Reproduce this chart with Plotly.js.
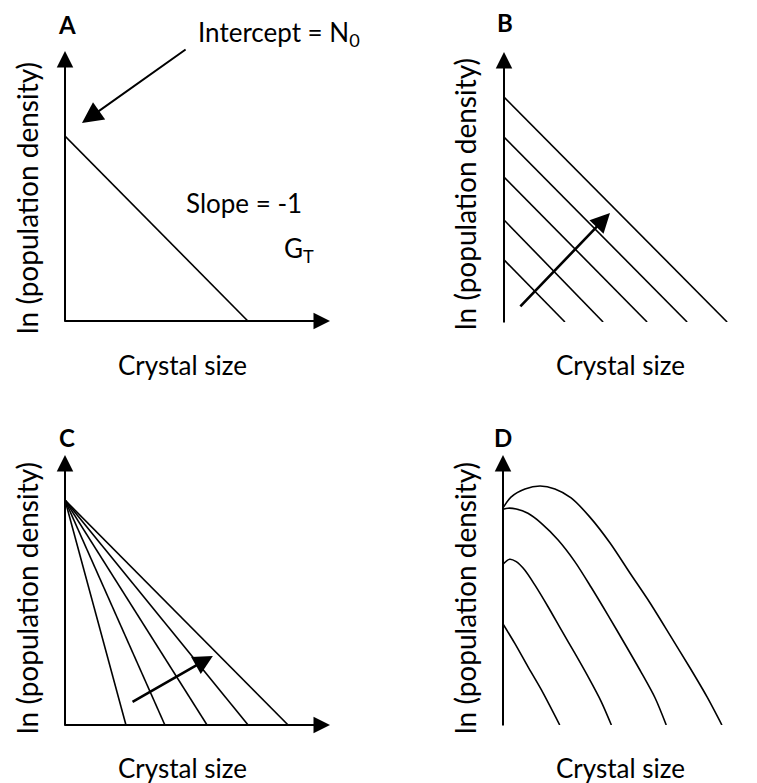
<!DOCTYPE html>
<html><head><meta charset="utf-8">
<script src="https://cdn.plot.ly/plotly-3.0.1.min.js"></script>
<style>html,body{margin:0;padding:0;background:#fff}</style>
</head><body><div id="chart" style="width:757px;height:783px"></div>
<script>
// ---- data ----
const panelLetters = ['A', 'B', 'C', 'D'];
const xAxisTitle = 'Crystal size';
const yAxisTitle = 'ln (population density)';

// Panel A: single population density line
const aLineX = [0, 6.9];
const aLineY = [6.85, 0];
const aInterceptLabel = 'Intercept = N<sub>0</sub>';
const aSlopeLabel = 'Slope = -1';
const aSlopeSubLabel = 'G<sub>T</sub>';

// Panel B: parallel lines (y-intercepts, x-intercepts)
const bInterceptsY = [2.30, 3.78, 5.37, 6.85, 8.33];
const bInterceptsX = [2.30, 3.74, 5.40, 6.91, 8.42];

// Panel C: lines through a common intercept
const cApexY = 8.33;
const cInterceptsX = [2.30, 3.77, 5.36, 6.91, 8.42];

// Panel D: curved distributions
const dCurve1X = [0, 0.30, 0.83, 1.40, 1.96, 2.57, 3.28, 4.04, 4.79, 5.55, 6.30, 7.06, 7.70, 8.26];
const dCurve1Y = [8.04, 8.44, 8.74, 8.85, 8.74, 8.41, 7.70, 6.74, 5.63, 4.52, 3.33, 2.11, 1.04, 0];
const dCurve2X = [0, 0.19, 0.50, 0.94, 1.45, 2.08, 2.71, 3.32, 3.96, 4.60, 5.21, 5.74, 6.16];
const dCurve2Y = [7.99, 8.03, 8.00, 7.84, 7.47, 6.85, 6.05, 5.11, 4.07, 3.00, 1.96, 1.00, 0];
const dCurve3X = [0, 0.25, 0.50, 0.82, 1.20, 1.70, 2.20, 2.71, 3.21, 3.71, 4.09];
const dCurve3Y = [5.96, 6.14, 6.05, 5.74, 5.19, 4.38, 3.52, 2.66, 1.79, 0.86, 0];
const dCurve4X = [0, 0.44, 0.94, 1.45, 2.14];
const dCurve4Y = [3.74, 3.03, 2.16, 1.30, 0];

// Direction arrows (tail -> head) in panel data units
const bArrowTail = [0.60, 0.56], bArrowHead = [4.00, 4.04];
const cArrowTail = [2.53, 0.85], cArrowHead = [5.58, 2.56];
const aIntArrowTail = [4.57, 10.07], aIntArrowHead = [0.64, 7.33];

// ---- layout helpers ----
const W = 757, H = 783, SX = 26.5, SY = 27;
const FONT = 'Lato, "Open Sans", sans-serif';
const origins = [[65, 321], [504, 322], [65, 725], [503, 725]];
const xTips = [10, 9.85, 10, 9.85];
const suffix = ['', '2', '3', '4'];

const layout = {
  width: W, height: H,
  margin: {l: 0, r: 0, t: 0, b: 0},
  paper_bgcolor: '#fff', plot_bgcolor: 'rgba(0,0,0,0)',
  showlegend: false,
  font: {family: FONT, color: '#000'},
  annotations: []
};

origins.forEach(([ox, oy], i) => {
  const xEnd = Math.min(W, ox + 10.3 * SX);
  const xr = (xEnd - ox) / SX;
  layout['xaxis' + suffix[i]] = {
    domain: [ox / W, xEnd / W], range: [0, xr], visible: false,
    anchor: 'y' + suffix[i], fixedrange: true
  };
  layout['yaxis' + suffix[i]] = {
    domain: [1 - oy / H, 1 - (oy - 10.5 * SY) / H], range: [0, 10.5], visible: false,
    anchor: 'x' + suffix[i], fixedrange: true
  };
  const xr_ = 'x' + suffix[i], yr_ = 'y' + suffix[i];
  // axis arrows
  layout.annotations.push({
    xref: xr_, yref: yr_, axref: xr_, ayref: yr_,
    x: xTips[i], y: 0, ax: -0.04, ay: 0, text: '', showarrow: true,
    arrowhead: 2, arrowsize: 1.65, arrowwidth: 2, arrowcolor: '#000', borderpad: 0
  });
  layout.annotations.push({
    xref: xr_, yref: yr_, axref: xr_, ayref: yr_,
    x: 0, y: 10, ax: 0, ay: -0.04, text: '', showarrow: true,
    arrowhead: 2, arrowsize: 1.65, arrowwidth: 2, arrowcolor: '#000', borderpad: 0
  });
});

function paperText(text, px, py, size, opts) {
  return Object.assign({
    xref: 'paper', yref: 'paper', x: px / W, y: 1 - py / H,
    text: text, showarrow: false, xanchor: 'center', yanchor: 'middle',
    font: {family: FONT, size: size, color: '#000'}
  }, opts || {});
}

// panel letters
const letterPos = [[67, 24], [505, 23], [67, 437], [503, 437]];
letterPos.forEach((p, i) => layout.annotations.push(paperText('<b>' + panelLetters[i] + '</b>', p[0], p[1], 24)));
// x titles
const xTitlePos = [[182, 365], [620, 365], [182, 768], [620, 768]];
xTitlePos.forEach(p => layout.annotations.push(paperText(xAxisTitle, p[0], p[1], 26)));
// y titles
const yTitlePos = [[27, 198], [465, 194], [27, 598], [465, 598]];
yTitlePos.forEach(p => layout.annotations.push(paperText(yAxisTitle, p[0], p[1], 28, {textangle: -90})));

// panel A labels
layout.annotations.push(paperText(aInterceptLabel, 196, 33, 26, {xanchor: 'left'}));
layout.annotations.push(paperText(aSlopeLabel, 184, 203, 26, {xanchor: 'left'}));
layout.annotations.push(paperText(aSlopeSubLabel, 282, 250, 26, {xanchor: 'left'}));
layout.annotations.push({
  xref: 'x', yref: 'y', axref: 'x', ayref: 'y',
  x: aIntArrowHead[0], y: aIntArrowHead[1], ax: aIntArrowTail[0], ay: aIntArrowTail[1],
  text: '', showarrow: true, arrowhead: 2, arrowsize: 2.1, arrowwidth: 2, arrowcolor: '#000', borderpad: 0
});
// direction arrows B and C
[[bArrowTail, bArrowHead, 'x2', 'y2'], [cArrowTail, cArrowHead, 'x3', 'y3']].forEach(([t, h, xa, ya]) => {
  layout.annotations.push({
    xref: xa, yref: ya, axref: xa, ayref: ya,
    x: h[0], y: h[1], ax: t[0], ay: t[1],
    text: '', showarrow: true, arrowhead: 2, arrowsize: 1.5, arrowwidth: 2.6, arrowcolor: '#000', borderpad: 0
  });
});

// ---- traces ----
const lineStyle = {color: '#000', width: 1.6};
const traces = [];
traces.push({x: aLineX, y: aLineY, xaxis: 'x', yaxis: 'y', mode: 'lines', line: lineStyle, hoverinfo: 'skip'});
bInterceptsY.forEach((yi, k) => traces.push({
  x: [0, bInterceptsX[k]], y: [yi, 0], xaxis: 'x2', yaxis: 'y2', mode: 'lines', line: lineStyle, hoverinfo: 'skip'
}));
cInterceptsX.forEach(xi => traces.push({
  x: [0, xi], y: [cApexY, 0], xaxis: 'x3', yaxis: 'y3', mode: 'lines', line: lineStyle, hoverinfo: 'skip'
}));
[[dCurve1X, dCurve1Y], [dCurve2X, dCurve2Y], [dCurve3X, dCurve3Y], [dCurve4X, dCurve4Y]].forEach(([xs, ys]) => traces.push({
  x: xs, y: ys, xaxis: 'x4', yaxis: 'y4', mode: 'lines',
  line: {color: '#000', width: 1.6, shape: 'spline', smoothing: 0.8}, hoverinfo: 'skip'
}));

Plotly.newPlot('chart', traces, layout, {staticPlot: true, displayModeBar: false});
</script>
</body></html>
